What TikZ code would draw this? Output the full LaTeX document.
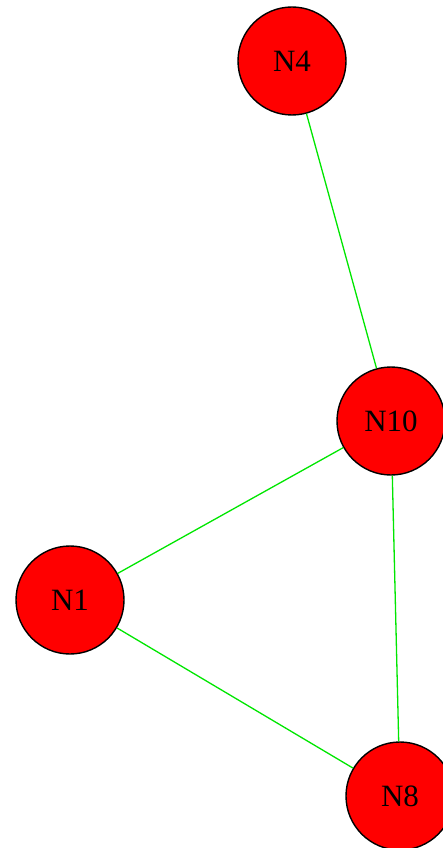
\documentclass[tikz,border=0pt]{standalone}
\usepackage{fontspec}
\setmainfont{Liberation Serif}
\usetikzlibrary{positioning}
\definecolor{nodered}{RGB}{255,0,0}
\definecolor{edgegreen}{RGB}{0,230,0}
\tikzset{
  vtx/.style={circle, draw=black, fill=nodered, line width=1.4pt,
    minimum size=108pt, inner sep=0pt, font=\fontsize{31}{31}\selectfont, text=black},
  edg/.style={edgegreen, line width=1.3pt}
}
\begin{document}
\begin{tikzpicture}[x=1pt, y=-1pt]
  \useasboundingbox (0,0) rectangle (442,848);
  \node[vtx] (N4) at (292,61) {N4};
  \node[vtx] (N10) at (391,421) {N10};
  \node[vtx] (N1) at (70,600) {N1};
  \node[vtx] (N8) at (400,796) {N8};
  \draw[edg] (N4) -- (N10);
  \draw[edg] (N10) -- (N1);
  \draw[edg] (N10) -- (N8);
  \draw[edg] (N1) -- (N8);
\end{tikzpicture}
\end{document}
